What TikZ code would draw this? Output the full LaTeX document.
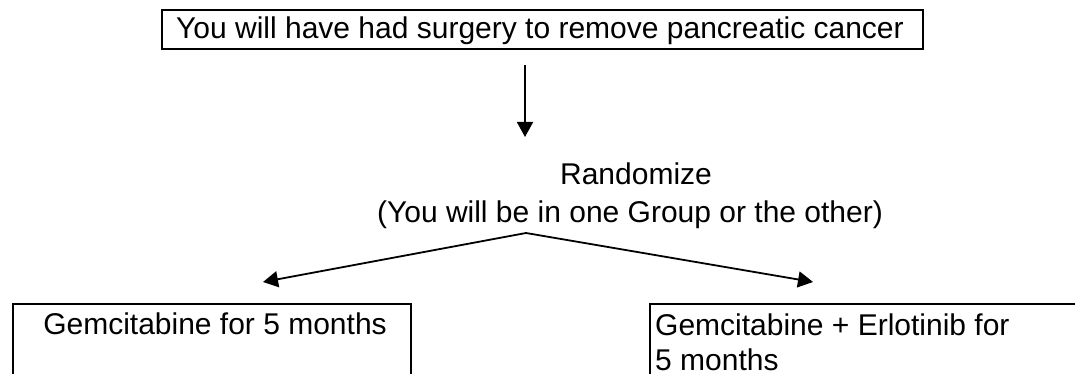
\documentclass[tikz,border=0pt]{standalone}
\usepackage{fontspec}
\setmainfont{Liberation Sans}
\usetikzlibrary{arrows.meta,positioning}
\tikzset{
  flowbox/.style={draw,line width=1.8pt,inner sep=0pt},
  flowtext/.style={inner sep=0pt,font=\fontsize{30}{37}\selectfont},
  flowarrow/.style={line width=1.8pt,-{Triangle[length=15pt,width=16pt]}}
}
\begin{document}
\begin{tikzpicture}[x=1pt,y=-1pt]
\useasboundingbox (0,0) rectangle (1075,374);
% top box
\node[flowbox,anchor=north west,minimum width=761pt,minimum height=39pt] (surgerybox) at (161,9) {};
\node[flowtext,anchor=base] (surgery) at (540,39) {You will have had surgery to remove pancreatic cancer};
\coordinate (downstart) at (525,65);
\coordinate (downend) at (525,137);
\draw[flowarrow] (downstart) -- (downend);
% randomize
\node[flowtext,anchor=base] (randomize) at (636,185) {Randomize};
\node[flowtext,anchor=base] (groups) at (630,222) {(You will be in one Group or the other)};
\coordinate (split) at (526,233);
\coordinate (lefttip) at (263,282);
\coordinate (righttip) at (813,282);
\draw[flowarrow] (split) -- (lefttip);
\draw[flowarrow] (split) -- (righttip);
% bottom boxes
\node[flowbox,anchor=north west,minimum width=398pt,minimum height=120pt] (gembox) at (12,303) {};
\node[flowtext,anchor=base] (gem) at (215,334) {Gemcitabine for 5 months};
\node[flowbox,anchor=north west,minimum width=460pt,minimum height=120pt] (erlobox) at (649,303) {};
\node[flowtext,anchor=base west] (erlo) at (655,335) {Gemcitabine + Erlotinib for};
\node[flowtext,anchor=base west] (erlomonths) at (655,370) {5 months};
\end{tikzpicture}
\end{document}
